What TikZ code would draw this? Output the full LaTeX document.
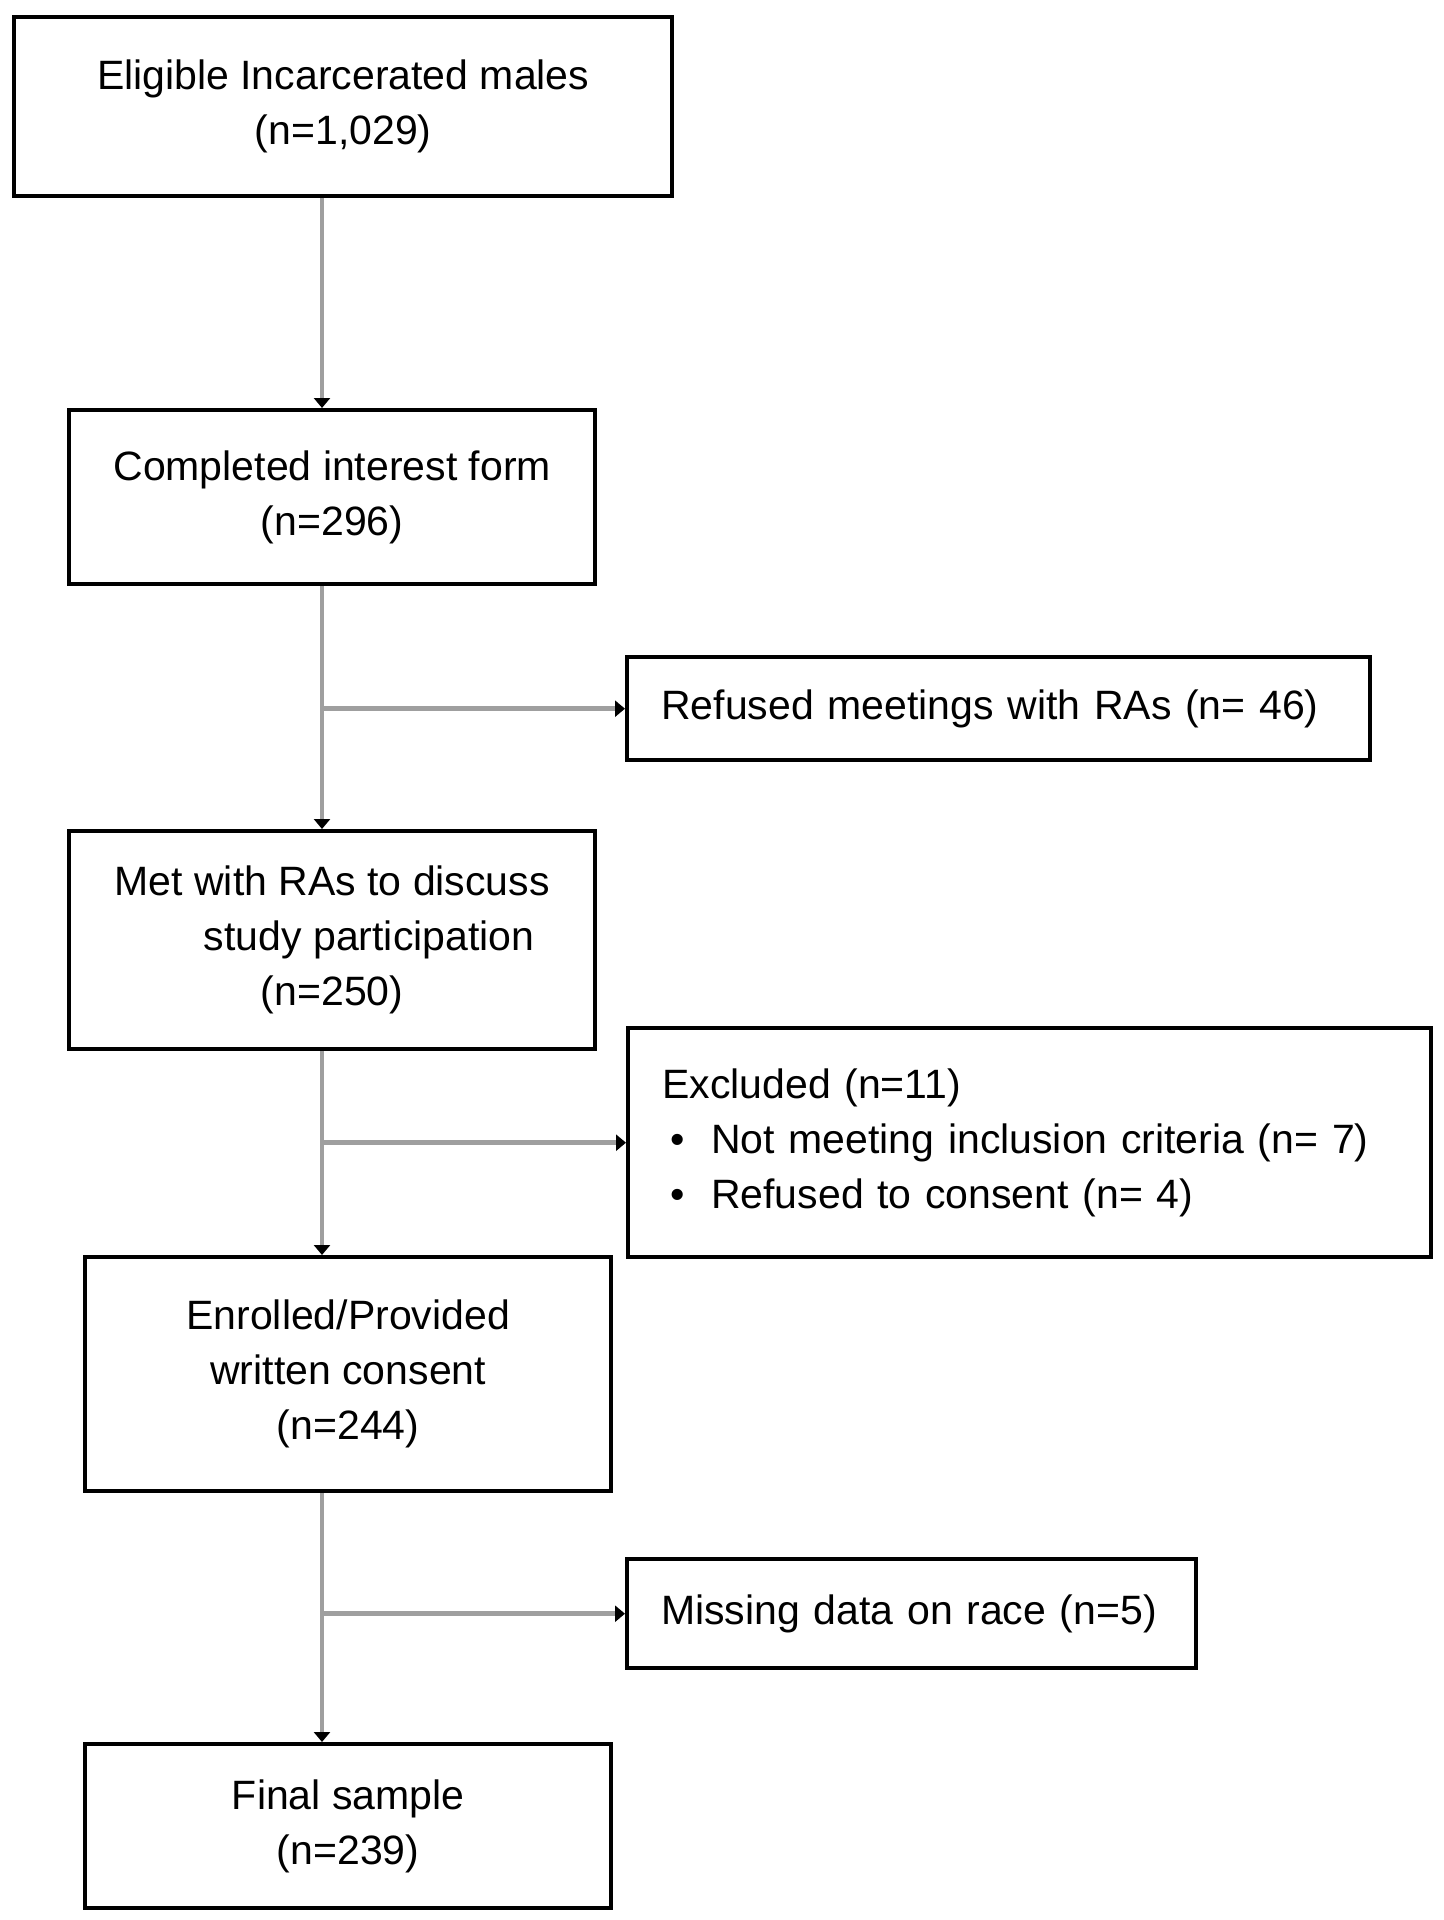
\documentclass[tikz,border=0pt]{standalone}
\usepackage{fontspec}
\setmainfont{Liberation Sans}
\usetikzlibrary{arrows.meta,calc}
\tikzset{
  box/.style={draw=black, line width=2.2pt, fill=white, anchor=north west, align=center,
    font=\fontsize{20.5pt}{27.5pt}\selectfont, inner sep=0pt},
  sidebox/.style={box, align=left, inner xsep=17pt},
  conn/.style={draw=gray!75, line width=2.4pt,
    -{Triangle[length=5pt,width=8pt,color=black]}},
}
\begin{document}
\begin{tikzpicture}[x=0.5pt,y=-0.5pt]
\useasboundingbox (0,0) rectangle (1444,1920);
\node[box, minimum width=329pt, minimum height=89.5pt] (b1) at (12,15)
  {Eligible Incarcerated males\\(n=1,029)};
\node[box, minimum width=263pt, minimum height=87pt] (b2) at (67,408)
  {Completed interest form\\(n=296)};
\node[sidebox, text width=337.5pt, minimum height=51.5pt] (r1) at (625,655)
  {Refused meetings with RAs (n= 46)};
\node[box, minimum width=263pt, minimum height=109pt] (b3) at (67,829)
  {Met with RAs to discuss\\\hspace*{37pt}study participation\\(n=250)};
\node[sidebox, text width=367.5pt, minimum height=114.5pt] (r2) at (626,1026)
  {Excluded (n=11)\\
   \hspace*{4pt}\makebox[20.5pt][l]{•}Not meeting inclusion criteria (n= 7)\\
   \hspace*{4pt}\makebox[20.5pt][l]{•}Refused to consent (n= 4)};
\node[box, minimum width=263pt, minimum height=117pt] (b4) at (83,1255)
  {Enrolled/Provided\\written consent\\(n=244)};
\node[sidebox, text width=250.5pt, minimum height=54.5pt] (r3) at (625,1557)
  {Missing data on race (n=5)};
\node[box, minimum width=263pt, minimum height=82pt] (b5) at (83,1742)
  {Final sample\\(n=239)};
\coordinate (s) at (322,0);
\draw[conn] (b1.south -| s) -- (b2.north -| s);
\draw[conn] (b2.south -| s) -- (b3.north -| s);
\draw[conn] (b3.south -| s) -- (b4.north -| s);
\draw[conn] (b4.south -| s) -- (b5.north -| s);
\draw[conn] (s |- r1.west) -- (r1.west);
\draw[conn] (s |- r2.west) -- (r2.west);
\draw[conn] (s |- r3.west) -- (r3.west);
\end{tikzpicture}
\end{document}
